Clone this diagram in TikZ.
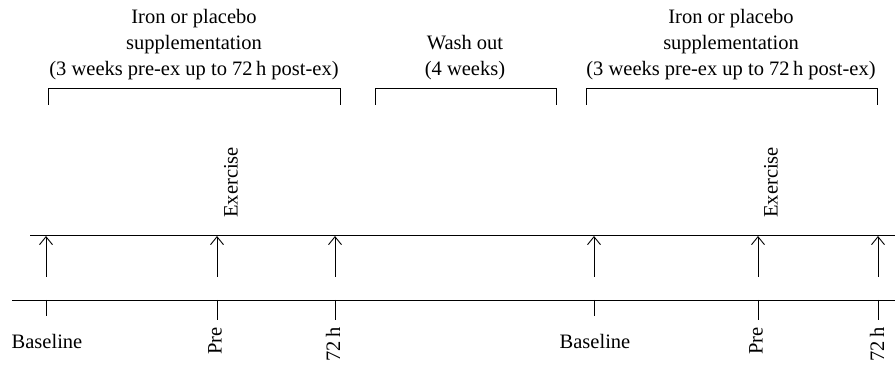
\documentclass[tikz,border=0pt]{standalone}
\usepackage{fontspec}
\setmainfont{Liberation Serif}
\usetikzlibrary{arrows.meta}
\begin{document}
\begin{tikzpicture}[x=1pt,y=-1pt,font=\fontsize{20.5}{26}\selectfont,line width=0.9pt]
        \tikzstyle{upmark} = [-{Straight Barb[length=8pt,width=13pt]}]
        \tikzstyle{lbl} = [inner sep=0pt]
        \tikzstyle{vlbl} = [inner sep=0pt, rotate=90]

        \useasboundingbox (0,0) rectangle (895,366);

        % the two time lines
        \coordinate (upL) at (30,235);
        \coordinate (upR) at (895,235);
        \coordinate (loL) at (12,300);
        \coordinate (loR) at (895,300);
        \draw (upL) -- (upR);
        \draw (loL) -- (loR);

        % arrows up to the upper line, ticks below the lower line
        \foreach \n/\x/\t in {
            a/46/316,
            b/217/320,
            c/335/320,
            d/594/316,
            e/758/320,
            f/878/320
        } {
            \coordinate (\n top) at (\x,236);
            \coordinate (\n bot) at (\x,277);
            \coordinate (\n base) at (\x,300);
            \coordinate (\n end) at (\x,\t);
            \draw[upmark] (\n bot) -- (\n top);
            \draw (\n base) -- (\n end);
        }

        % time point labels
        \node[lbl] (baseA) at (47,341) {Baseline};
        \node[vlbl, anchor=east] (preA) at (215,327) {Pre};
        \node[vlbl, anchor=east] (hA) at (333,327) {72\,h};
        \node[lbl] (baseB) at (595,341) {Baseline};
        \node[vlbl, anchor=east] (preB) at (756,327) {Pre};
        \node[vlbl, anchor=east] (hB) at (877,327) {72\,h};

        \node[vlbl, anchor=west] (exA) at (231,218) {Exercise};
        \node[vlbl, anchor=west] (exB) at (771,218) {Exercise};

        % brackets over the periods
        \foreach \a/\b in {48/340, 375/556, 586/877} {
            \draw (\a,105) |- (\b,88) -- (\b,105);
        }

        \node[lbl, anchor=south, align=center] (supA) at (194,80)
            {Iron or placebo\\supplementation\\(3 weeks pre-ex up to 72\,h post-ex)};
        \node[lbl, anchor=south, align=center] (wash) at (465,80)
            {Wash out\\(4 weeks)};
        \node[lbl, anchor=south, align=center] (supB) at (731,80)
            {Iron or placebo\\supplementation\\(3 weeks pre-ex up to 72\,h post-ex)};
    \end{tikzpicture}
\end{document}
